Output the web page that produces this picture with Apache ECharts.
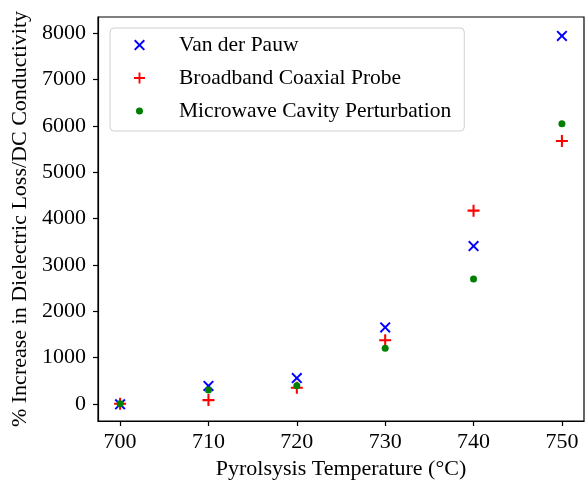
<!DOCTYPE html>
<html>
<head>
<meta charset="utf-8">
<script src="https://cdn.jsdelivr.net/npm/echarts@6/dist/echarts.min.js"></script>
<style>html,body{margin:0;padding:0;background:#fff}#c{width:585px;height:485px}</style>
</head>
<body>
<div id="c"></div>
<script>
const temperatures = [700, 710, 720, 730, 740, 750];
const vanDerPauw = [-10, 385, 555, 1650, 3405, 7940];
const broadbandCoaxial = [0, 80, 345, 1370, 4170, 5675];
const microwaveCavity = [0, 300, 390, 1200, 2695, 6045];
const xTicks = [700, 710, 720, 730, 740, 750];
const yTicks = [0, 1000, 2000, 3000, 4000, 5000, 6000, 7000, 8000];
const seriesNames = ['Van der Pauw', 'Broadband Coaxial Probe', 'Microwave Cavity Perturbation'];

const FONT = '"Liberation Serif", "DejaVu Serif", serif';
const d = 1.25;
const X_PATH = `path://M0,${d} L${d},0 L5,${5-d} L${10-d},0 L10,${d} L${5+d},5 L10,${10-d} L${10-d},10 L5,${5+d} L${d},10 L0,${10-d} L${5-d},5 Z`;
const t = 0.85;
const PLUS_PATH = `path://M${5-t},0 L${5+t},0 L${5+t},${5-t} L10,${5-t} L10,${5+t} L${5+t},${5+t} L${5+t},10 L${5-t},10 L${5-t},${5+t} L0,${5+t} L0,${5-t} L${5-t},${5-t} Z`;
// small dot inside a 10x10 box (tiny corner specks keep the box size) for the legend
const DOT_PATH = 'path://M0,0 L0.01,0 L0,0.01 Z M10,10 L9.99,10 L10,9.99 Z M8.2,5 A3.2,3.2 0 1 1 1.8,5 A3.2,3.2 0 1 1 8.2,5 Z';

function pairs(vals) { return temperatures.map((x, i) => [x, vals[i]]); }

const axisLineStyle = {show: true, onZero: false, lineStyle: {color: '#000', width: 1.2}};

const chart = echarts.init(document.getElementById('c'), null, {renderer: 'canvas'});
chart.setOption({
  animation: false,
  backgroundColor: '#fff',
  grid: {left: 98, top: 17, right: 1, bottom: 62, show: true, borderColor: '#000', borderWidth: 1.2, backgroundColor: 'transparent'},
  xAxis: {
    type: 'value', min: 697.5, max: 752.5,
    name: 'Pyrolsysis Temperature (°C)', nameLocation: 'middle', nameGap: 37,
    nameTextStyle: {fontFamily: FONT, fontSize: 22, color: '#000'},
    axisLine: axisLineStyle,
    axisTick: {show: true, length: 5, lineStyle: {color: '#000', width: 1.2}, customValues: xTicks},
    axisLabel: {fontFamily: FONT, fontSize: 22, color: '#000', margin: 10, customValues: xTicks, formatter: v => String(v)},
    splitLine: {show: false}
  },
  yAxis: {
    type: 'value', min: -371, max: 8350,
    name: '% Increase in Dielectric Loss/DC Conductivity', nameLocation: 'middle', nameGap: 66,
    nameTextStyle: {fontFamily: FONT, fontSize: 22, color: '#000'},
    axisLine: axisLineStyle,
    axisTick: {show: true, length: 5, lineStyle: {color: '#000', width: 1.2}, customValues: yTicks},
    axisLabel: {fontFamily: FONT, fontSize: 22, color: '#000', margin: 12, customValues: yTicks, formatter: v => String(v)},
    splitLine: {show: false}
  },
  legend: {
    left: 110, top: 28, orient: 'vertical',
    data: [
      {name: seriesNames[0]},
      {name: seriesNames[1]},
      {name: seriesNames[2], icon: DOT_PATH}
    ],
    backgroundColor: 'rgba(255,255,255,0.8)', borderColor: '#d0d0d0', borderWidth: 1, borderRadius: 4,
    padding: [6, 13, 9, 24],
    itemWidth: 11, itemHeight: 11, itemGap: 11,
    textStyle: {fontFamily: FONT, fontSize: 21.5, color: '#000', lineHeight: 21, padding: [0, 0, 0, 29]}
  },
  series: [
    {name: seriesNames[0], type: 'scatter', data: pairs(vanDerPauw), symbol: X_PATH, symbolSize: 11, symbolKeepAspect: true, itemStyle: {color: '#0000ff', opacity: 1}, z: 3},
    {name: seriesNames[1], type: 'scatter', data: pairs(broadbandCoaxial), symbol: PLUS_PATH, symbolSize: 12, symbolKeepAspect: true, itemStyle: {color: '#ff0000', opacity: 1}, z: 4},
    {name: seriesNames[2], type: 'scatter', data: pairs(microwaveCavity), symbol: 'circle', symbolSize: 7, itemStyle: {color: '#007f00', opacity: 1}, z: 5}
  ]
});
</script>
</body>
</html>
